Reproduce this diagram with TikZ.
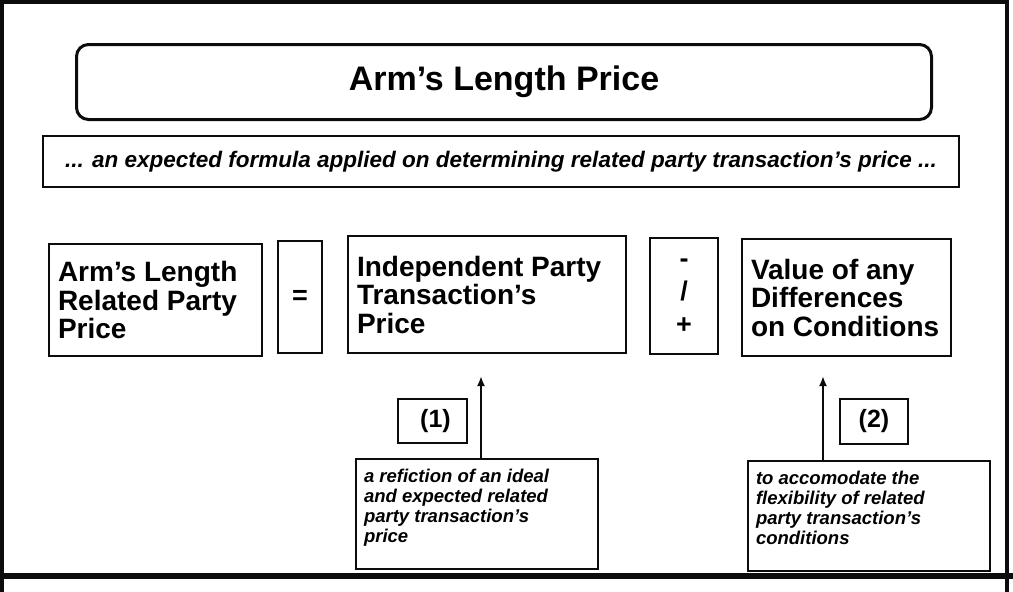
\documentclass[tikz,border=0pt]{standalone}
\usepackage{fontspec}
\setmainfont{Liberation Sans}
\usepackage{tikz}
\usetikzlibrary{arrows.meta}
\definecolor{figline}{RGB}{12,12,12}
\newcommand{\notetext}[1]{\parbox[t][90pt][t]{226pt}{\raggedright #1}}
\tikzset{
  frm/.style ={draw=figline, line width=3pt},
  bx/.style  ={draw=figline, line width=2pt, anchor=north west, inner sep=0pt},
  txt/.style ={font=\bfseries\fontsize{28}{28.5}\selectfont, align=flush left, inner xsep=9pt},
  sgn/.style ={font=\bfseries\fontsize{27}{33}\selectfont, align=center},
  tag/.style ={font=\bfseries\fontsize{25}{26}\selectfont},
  note/.style={font=\bfseries\itshape\fontsize{18.5}{20}\selectfont, inner xsep=8pt, inner ysep=10pt},
  ptr/.style ={draw=figline, line width=2pt, -{Latex[length=10pt,width=8pt]}},
}

\begin{document}
\begin{tikzpicture}[x=1pt,y=-1pt]
  \useasboundingbox (0,0) rectangle (1013,592);
  \fill[white] (0,0) rectangle (1013,592);
  \draw[figline, line width=3.5pt] (2,592) -- (2,2) -- (1007,2) -- (1007,592);
  \draw[figline, line width=6pt] (0,576) -- (1013,576);
  \node[bx, frm, rounded corners=12pt, minimum width=855pt, minimum height=75pt,
        font=\bfseries\fontsize{34}{36}\selectfont] (title) at (75,43) {Arm’s Length Price};
  \node[bx, minimum width=916pt, minimum height=51pt,
        font=\bfseries\itshape\fontsize{22.5}{24}\selectfont] (sub) at (42,135)
        {... an expected formula applied on determining related party transaction’s price ...};
  \node[bx, txt, text width=195pt, minimum height=112pt] (alp) at (48,243) {Arm’s Length\\Related Party\\Price};
  \node[bx, sgn, minimum width=44pt, minimum height=112pt] (eq) at (277,240) {=};
  \node[bx, txt, text width=260pt, minimum height=117pt] (ipp) at (347,235) {Independent Party\\Transaction’s\\Price};
  \node[bx, sgn, minimum width=68pt, minimum height=116pt] (pm) at (649,237) {-\\/\\+};
  \node[bx, txt, text width=191pt, minimum height=117pt] (vod) at (741,238) {Value of any\\Differences\\on Conditions};
  \node[bx, tag, minimum width=69pt, minimum height=44pt] (t1) at (397,398) {\hspace{6pt}(1)};
  \node[bx, tag, minimum width=68pt, minimum height=45pt] (t2) at (839,398) {(2)};
  \node[bx, note] (n1) at (355,458)
        {\notetext{a refiction of an ideal\\and expected related\\party transaction’s\\price}};
  \node[bx, note] (n2) at (747,460)
        {\notetext{to accomodate the\\flexibility of related\\party transaction’s\\conditions}};
  \coordinate (a1) at (481,376);
  \coordinate (a2) at (823,376);
  \draw[ptr] (a1 |- n1.north) -- (a1);
  \draw[ptr] (a2 |- n2.north) -- (a2);
\end{tikzpicture}
\end{document}
